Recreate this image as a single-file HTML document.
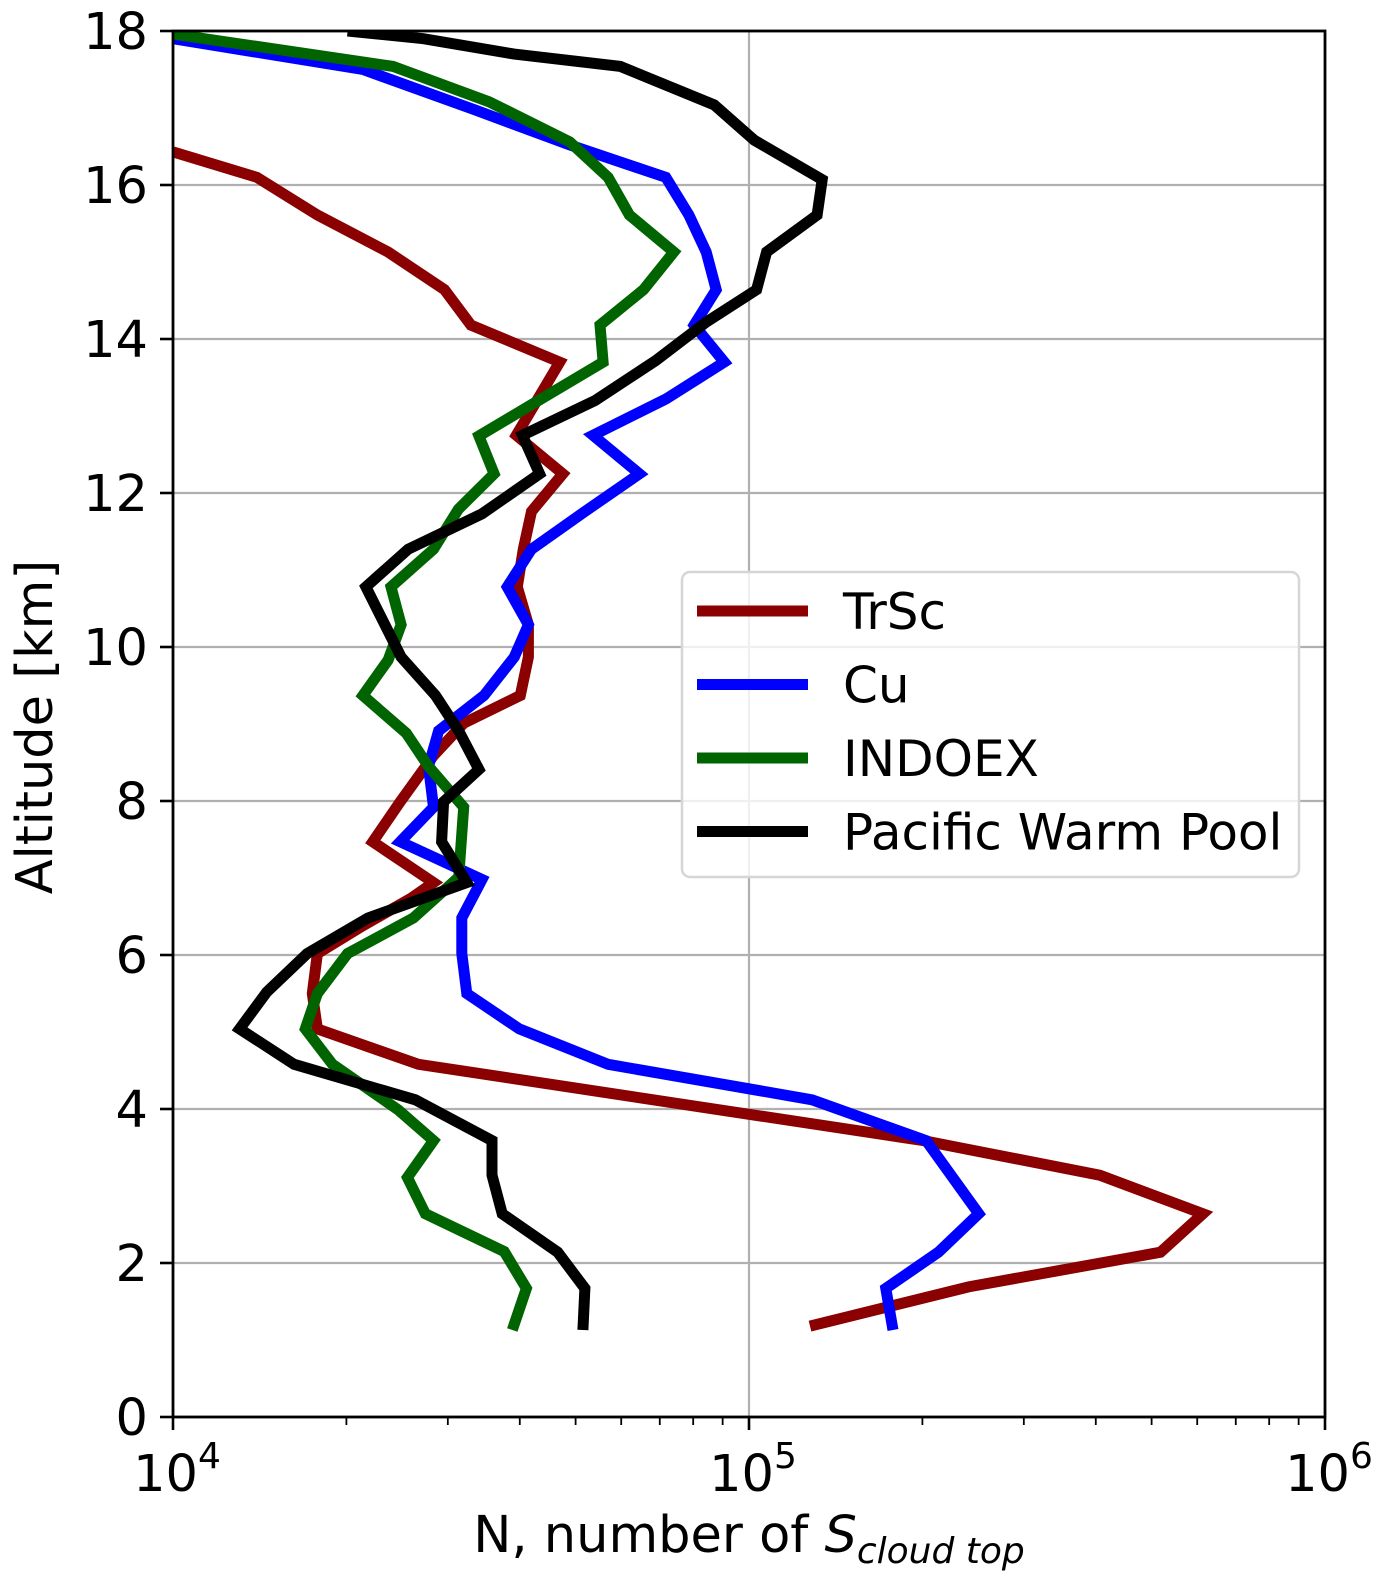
<!DOCTYPE html>
<html><head><meta charset="utf-8"><style>
html,body{margin:0;padding:0;background:#fff;}
svg{display:block;font-family:"DejaVu Sans","Liberation Sans",sans-serif;}
</style></head><body>
<svg id="chart" width="1382" height="1582" xmlns="http://www.w3.org/2000/svg">
<defs><clipPath id="plotclip"><rect x="173" y="31" width="1152" height="1386"/></clipPath></defs>
<g id="grid"></g>
<g id="series" clip-path="url(#plotclip)"></g>
<g id="axes"></g>
<g id="legend"></g>
</svg>
<script>
const seriesNames = ["TrSc","Cu","INDOEX","Pacific Warm Pool"];
const seriesColors = ["#8b0000","#0000ff","#006400","#000000"];
const trscN = [10000,13980,17810,23630,29610,32900,46920,39450,47500,41920,40570,39600,41400,41400,40090,31970,28330,24800,22230,28330,25930,21360,17810,17450,17810,26670,200600,406400,613800,518100,240600,127600];
const trscAlt = [16.43,16.10,15.61,15.13,14.64,14.18,13.70,12.75,12.25,11.76,11.27,10.78,10.29,9.87,9.37,9.01,8.59,7.99,7.47,6.94,6.74,6.38,6.02,5.50,5.04,4.58,3.59,3.14,2.64,2.14,1.69,1.18];
const cuN = [10000,21360,33300,48860,71700,78650,84270,87700,80300,90600,71700,53600,64530,51900,41920,38040,41400,39130,34670,28910,27770,28330,24800,34390,31720,31720,32370,39920,56940,128700,203000,250500,213200,172800,177800];
const cuAlt = [17.90,17.50,16.98,16.52,16.10,15.61,15.13,14.64,14.18,13.70,13.22,12.75,12.25,11.76,11.27,10.78,10.29,9.87,9.37,8.91,8.45,7.92,7.47,6.98,6.48,6.02,5.50,5.04,4.58,4.12,3.59,2.64,2.14,1.67,1.13];
const indoexN = [10000,24100,35380,48860,56940,62000,74040,65580,55130,55800,42420,33970,36090,31290,28330,23900,24890,23630,21360,25410,27770,31970,31330,26140,20100,17810,16970,18920,24600,28330,25520,27420,37580,41070,38820];
const indoexAlt = [17.96,17.54,17.08,16.56,16.10,15.61,15.13,14.64,14.18,13.70,13.17,12.74,12.25,11.79,11.27,10.78,10.29,9.83,9.37,8.88,8.45,7.92,7.01,6.48,6.02,5.50,5.04,4.58,3.99,3.59,3.11,2.64,2.15,1.67,1.13];
const pwpN = [20100,27210,39130,59780,87000,102200,134000,131300,107300,103100,84270,68860,54040,40420,43290,34390,25610,21620,24890,28560,31330,33970,29500,29260,32370,21800,17100,14550,13050,16230,26340,35790,35790,37280,46540,51900,51480];
const pwpAlt = [18.0,17.90,17.70,17.54,17.04,16.58,16.07,15.61,15.13,14.64,14.22,13.72,13.20,12.75,12.25,11.73,11.27,10.78,9.87,9.37,8.91,8.41,7.99,7.47,6.94,6.48,6.02,5.52,5.04,4.58,4.12,3.59,3.14,2.64,2.14,1.67,1.13];
const yTicks = [0,2,4,6,8,10,12,14,16,18];
const xTickExp = [4,5,6];

const NS="http://www.w3.org/2000/svg";
const L=173,R=1325,T=31,B=1417;
function xs(v){return L+(Math.log10(v)-4)/2*(R-L);}
function ys(a){return B-a/18*(B-T);}
function mk(tag,attrs,parent){const e=document.createElementNS(NS,tag);for(const k in attrs)e.setAttribute(k,attrs[k]);parent.appendChild(e);return e;}
const grid=document.getElementById('grid'),axes=document.getElementById('axes'),ser=document.getElementById('series'),leg=document.getElementById('legend');

yTicks.forEach(t=>{
  const y=ys(t);
  const g=mk('line',{x1:L,x2:R,y1:y,y2:y,stroke:'#b0b0b0','stroke-width':2.2},grid);
  
  
  const tk=mk('line',{x1:L-13,x2:L,y1:y,y2:y,stroke:'#000','stroke-width':2.6},axes);
  
  
  const tx=mk('text',{x:L-25,y:y+18,'text-anchor':'end','font-size':51},axes);
  tx.textContent=t;
  
  
});
xTickExp.forEach(e=>{
  const x=xs(Math.pow(10,e));
  const g=mk('line',{x1:x,x2:x,y1:T,y2:B,stroke:'#b0b0b0','stroke-width':2.2},grid);
  
  
  const tk=mk('line',{x1:x,x2:x,y1:B,y2:B+13,stroke:'#000','stroke-width':2.6},axes);
  
  
  const tx=mk('text',{x:x+4,y:B+74,'text-anchor':'middle','font-size':51},axes);
  tx.innerHTML='10<tspan font-size="36" dy="-23">'+e+'</tspan>';
  
  
});
[4,5].forEach(e=>{for(let m=2;m<=9;m++){const x=xs(m*Math.pow(10,e));
  const tk=mk('line',{x1:x,x2:x,y1:B,y2:B+8,stroke:'#000','stroke-width':1.8},axes);
  
  }});

const data=[[trscN,trscAlt],[cuN,cuAlt],[indoexN,indoexAlt],[pwpN,pwpAlt]];
data.forEach((d,i)=>{
  const pts=d[0].map((v,j)=>xs(v).toFixed(1)+','+ys(d[1][j]).toFixed(1)).join(' ');
  const p=mk('polyline',{points:pts,fill:'none',stroke:seriesColors[i],'stroke-width':11,'stroke-linejoin':'miter','stroke-miterlimit':3,'stroke-linecap':'butt'},ser);
  
  
});

const frame=mk('rect',{x:L,y:T,width:R-L,height:B-T,fill:'none',stroke:'#000','stroke-width':2.8},axes);



const xl=mk('text',{x:749,y:1552,'text-anchor':'middle','font-size':51},axes);
xl.innerHTML='N, number of <tspan font-style="italic">S</tspan><tspan font-style="italic" font-size="36" dy="11">cloud top</tspan>';


const yl=mk('text',{x:0,y:0,'text-anchor':'middle','font-size':51,transform:'translate(52,727) rotate(-90)'},axes);
yl.textContent='Altitude [km]';



const box=mk('rect',{x:682,y:572,width:617,height:305,rx:8,fill:'#fff','fill-opacity':0.8,stroke:'#d6d6d6','stroke-width':2.5},leg);


seriesNames.forEach((n,i)=>{
  const y=611+i*73.5;
  const ln=mk('line',{x1:697,x2:808,y1:y,y2:y,stroke:seriesColors[i],'stroke-width':11},leg);
  
  
  const t=mk('text',{x:843,y:y+18,'font-size':50},leg);
  t.textContent=n;
  
  
});
</script>
</body></html>
